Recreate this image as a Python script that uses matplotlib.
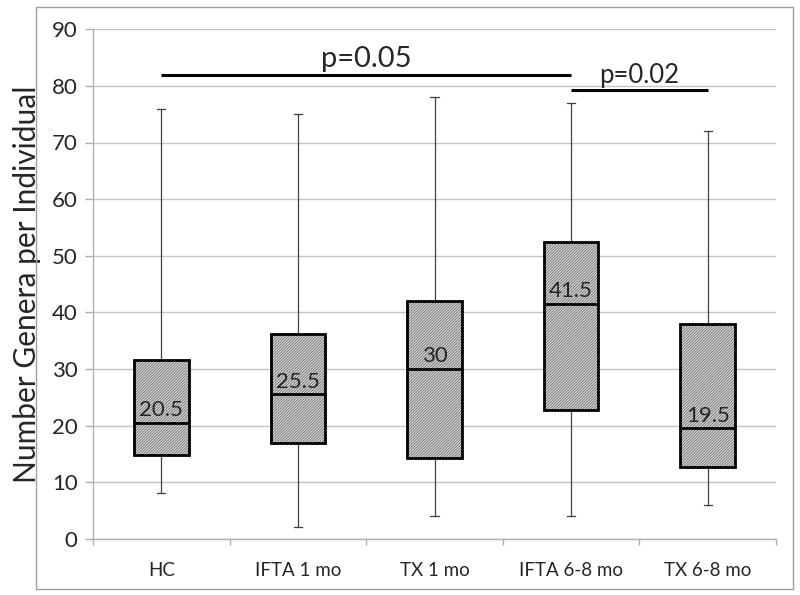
import matplotlib
matplotlib.use("Agg")
import matplotlib.pyplot as plt
from matplotlib.patches import Rectangle, PathPatch

plt.rcParams['font.family'] = ['Lato', 'DejaVu Sans']
plt.rcParams['hatch.linewidth'] = 0.5

categories = ["HC", "IFTA 1 mo", "TX 1 mo", "IFTA 6-8 mo", "TX 6-8 mo"]
whisker_low = [8, 2, 4, 4, 6]
q1 = [14.7, 16.9, 14.2, 22.8, 12.7]
median = [20.5, 25.5, 30, 41.5, 19.5]
q3 = [31.6, 36.2, 42, 52.5, 38]
whisker_high = [76, 75, 78, 77, 72]
median_labels = ["20.5", "25.5", "30", "41.5", "19.5"]

sig_pairs = [(0, 3), (3, 4)]
sig_heights = [82, 79.3]
sig_labels = ["p=0.05", "p=0.02"]
sig_sizes = [21, 18.5]

yticks = list(range(0, 91, 10))

W, H = 800, 595
fig = plt.figure(figsize=(8, 5.95), dpi=100)
fig.add_artist(Rectangle((36 / W, 1 - 589 / H), (793 - 36) / W, (589 - 7) / H,
                         transform=fig.transFigure, fill=False,
                         edgecolor='#a0a0a0', linewidth=1.0))

ax = fig.add_axes([93 / W, 1 - 538.7 / H, (776 - 93) / W, (538.7 - 29.3) / H])
ax.set_xlim(0, 5)
ax.set_ylim(0, 90)

text_color = '#262626'

stats = []
for i in range(len(categories)):
    stats.append(dict(med=median[i], q1=q1[i], q3=q3[i],
                      whislo=whisker_low[i], whishi=whisker_high[i],
                      fliers=[], label=categories[i]))

positions = [i + 0.5 for i in range(len(categories))]
bp = ax.bxp(stats, positions=positions, widths=0.40, patch_artist=True,
            showfliers=False, capwidths=0.06,
            boxprops=dict(facecolor='#dcdcdc', edgecolor='#5a5a5a', linewidth=0,
                          hatch='////////////'),
            medianprops=dict(color='black', linewidth=2.0),
            whiskerprops=dict(color='#404040', linewidth=0.9),
            capprops=dict(color='#404040', linewidth=0.9),
            manage_ticks=False, zorder=3)

for box in bp['boxes']:
    ax.add_patch(PathPatch(box.get_path(), transform=box.get_transform(), fill=False,
                           edgecolor='black', linewidth=2.0, zorder=3.5))

for i, lab in enumerate(median_labels):
    ax.text(positions[i], median[i] + 0.5, lab, ha='center', va='bottom',
            fontsize=16, color=text_color, zorder=5)

for (a, b), h, lab, fs in zip(sig_pairs, sig_heights, sig_labels, sig_sizes):
    ax.plot([positions[a], positions[b]], [h, h], color='black', linewidth=2.2,
            solid_capstyle='butt', zorder=4)
    ax.text((positions[a] + positions[b]) / 2, h + 0.4, lab, ha='center', va='bottom',
            fontsize=fs, color=text_color, zorder=5)

ax.set_yticks(yticks)
ax.grid(axis='y', color='#c4c4c4', linewidth=1.0, zorder=0)
ax.set_axisbelow(True)
ax.tick_params(axis='y', length=6, width=1, color='#b0b0b0', pad=5,
               labelsize=16, labelcolor=text_color)

ax.set_xticks(range(0, 6))
ax.set_xticklabels([])
ax.set_xticks(positions, minor=True)
ax.set_xticklabels(categories, minor=True)
ax.tick_params(axis='x', which='major', length=4, width=1, color='#b0b0b0', direction='out')
ax.tick_params(axis='x', which='minor', length=0, pad=17, labelsize=13.5, labelcolor=text_color)

for s in ['top', 'right']:
    ax.spines[s].set_visible(False)
for s in ['left', 'bottom']:
    ax.spines[s].set_color('#b0b0b0')
    ax.spines[s].set_linewidth(1.0)

ax.set_ylabel("Number Genera per Individual", fontsize=21.5, color=text_color)
ax.yaxis.set_label_coords(-(93 - 41) / (776 - 93), 0.5)

fig.savefig("out.png", dpi=100)
